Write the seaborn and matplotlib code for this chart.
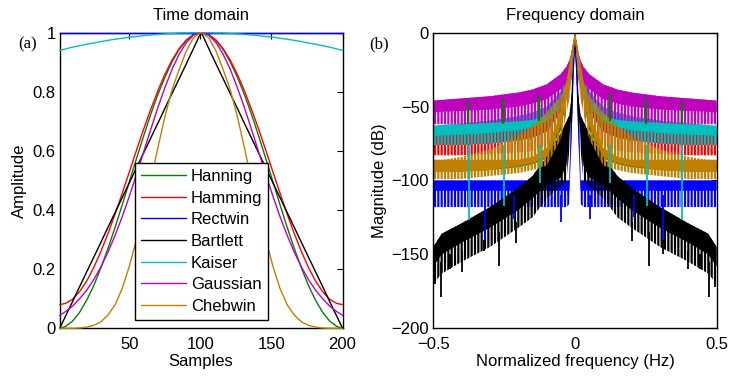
import numpy as np
import pandas as pd
import matplotlib
matplotlib.use("Agg")
import matplotlib.pyplot as plt
import seaborn as sns
from matplotlib.lines import Line2D

# ---------------- data ----------------
window_names = ["Hanning", "Hamming", "Rectwin", "Bartlett", "Kaiser", "Gaussian", "Chebwin"]
window_colors = ["#008000", "#FF0000", "#0000FF", "#000000", "#00BFBF", "#BF00BF", "#BF8000"]

# time domain (samples 1..200)
samples = [1, 5, 10, 15, 20, 25, 30, 35, 40, 45, 50, 55, 60, 65, 70, 75, 80, 85, 90, 95, 100,
           101, 106, 111, 116, 121, 126, 131, 136, 141, 146, 151, 156, 161, 166, 171, 176, 181, 186, 191, 196, 200]
hanning = [0.000, 0.006, 0.024, 0.054, 0.095, 0.145, 0.205, 0.271, 0.342, 0.418, 0.496, 0.574, 0.650, 0.723,
           0.790, 0.849, 0.901, 0.943, 0.973, 0.993, 1.000,
           1.000, 0.993, 0.973, 0.943, 0.901, 0.849, 0.790, 0.723, 0.650, 0.574, 0.496, 0.418, 0.342, 0.271,
           0.205, 0.145, 0.095, 0.054, 0.024, 0.006, 0.000]
hamming = [0.080, 0.084, 0.098, 0.124, 0.160, 0.206, 0.260, 0.321, 0.387, 0.457, 0.529, 0.602, 0.673, 0.740,
           0.803, 0.859, 0.907, 0.946, 0.975, 0.993, 1.000,
           1.000, 0.993, 0.975, 0.946, 0.907, 0.859, 0.803, 0.740, 0.673, 0.602, 0.529, 0.457, 0.387, 0.321,
           0.260, 0.206, 0.160, 0.124, 0.098, 0.084, 0.080]
rectwin = [1.0, 1.0, 1.0, 1.0, 1.0, 1.0, 1.0, 1.0, 1.0, 1.0, 1.0, 1.0, 1.0, 1.0, 1.0, 1.0, 1.0, 1.0, 1.0, 1.0, 1.0,
           1.0, 1.0, 1.0, 1.0, 1.0, 1.0, 1.0, 1.0, 1.0, 1.0, 1.0, 1.0, 1.0, 1.0, 1.0, 1.0, 1.0, 1.0, 1.0, 1.0, 1.0]
bartlett = [0.000, 0.040, 0.090, 0.141, 0.191, 0.241, 0.291, 0.342, 0.392, 0.442, 0.492, 0.543, 0.593, 0.643,
            0.693, 0.744, 0.794, 0.844, 0.894, 0.945, 0.997,
            0.997, 0.945, 0.894, 0.844, 0.794, 0.744, 0.693, 0.643, 0.593, 0.543, 0.492, 0.442, 0.392, 0.342,
            0.291, 0.241, 0.191, 0.141, 0.090, 0.040, 0.000]
kaiser = [0.940, 0.945, 0.951, 0.956, 0.961, 0.965, 0.970, 0.974, 0.978, 0.981, 0.985, 0.987, 0.990, 0.992,
          0.994, 0.996, 0.997, 0.999, 0.999, 1.000, 1.000,
          1.000, 1.000, 0.999, 0.999, 0.997, 0.996, 0.994, 0.992, 0.990, 0.987, 0.985, 0.981, 0.978, 0.974,
          0.970, 0.965, 0.961, 0.956, 0.951, 0.945, 0.940]
gaussian = [0.044, 0.056, 0.075, 0.100, 0.129, 0.165, 0.208, 0.258, 0.315, 0.378, 0.447, 0.520, 0.596, 0.672,
            0.746, 0.814, 0.876, 0.927, 0.966, 0.991, 1.000,
            1.000, 0.991, 0.966, 0.927, 0.876, 0.814, 0.746, 0.672, 0.596, 0.520, 0.447, 0.378, 0.315, 0.258,
            0.208, 0.165, 0.129, 0.100, 0.075, 0.056, 0.044]
chebwin = [0.000, 0.000, 0.000, 0.001, 0.004, 0.010, 0.022, 0.045, 0.080, 0.135, 0.210, 0.300, 0.395, 0.497,
           0.610, 0.716, 0.807, 0.875, 0.937, 0.982, 1.000,
           1.000, 0.982, 0.937, 0.875, 0.807, 0.716, 0.610, 0.497, 0.395, 0.300, 0.210, 0.135, 0.080, 0.045,
           0.022, 0.010, 0.004, 0.001, 0.000, 0.000, 0.000]
time_values = [hanning, hamming, rectwin, bartlett, kaiser, gaussian, chebwin]

# frequency domain: envelopes of the (symmetric) spectra, read for f >= 0, in dB
freq_half = [0.0, 0.01, 0.02, 0.03, 0.05, 0.1, 0.15, 0.2, 0.3, 0.4, 0.47, 0.5]
# top of band, bottom of solid core, bottom of teeth
han_top = [0, -12, -25, -36, -62, -82, -87, -89, -88, -87, -87, -87]
han_core = [-3, -20, -35, -45, -66, -85, -89, -91, -93, -94, -94, -94]
han_bot = [-3, -20, -35, -45, -66, -85, -89, -91, -93, -94, -94, -94]
ham_top = [0, -12, -25, -33, -44, -57, -61, -63, -65, -66, -66, -66]
ham_core = [-3, -20, -35, -42, -54, -67, -71, -73, -75, -76, -76, -76]
ham_bot = [-3, -28, -45, -52, -64, -76, -80, -81, -82, -83, -83, -83]
rec_top = [0, -30, -100, -100, -100, -100, -100, -100, -100, -100, -100, -100]
rec_core = [-5, -60, -107, -107, -107, -107, -107, -107, -107, -107, -107, -107]
rec_bot = [-5, -60, -116, -118, -118, -118, -118, -118, -118, -118, -118, -118]
bar_top = [0, -40, -56, -60, -68, -84, -97, -105, -118, -129, -136, -145]
bar_core = [-3, -50, -70, -90, -98, -103, -112, -120, -132, -142, -150, -158]
bar_bot = [-3, -55, -80, -100, -104, -112, -125, -132, -145, -155, -163, -170]
kai_top = [0, -12, -22, -30, -40, -50, -54, -56.5, -59.5, -61.5, -62.5, -63]
kai_core = [-3, -20, -32, -40, -50, -60, -64, -66, -68, -69, -69.5, -70]
kai_bot = [-3, -25, -40, -48, -58, -68, -72, -74, -75, -76, -76, -76]
gau_top = [0, -12, -19, -23, -28, -35, -38.5, -40.5, -43, -44.5, -45.5, -46]
gau_core = [-3, -20, -28, -33, -38, -45, -48, -50, -52, -53, -53.5, -54]
gau_bot = [-3, -25, -35, -42, -50, -57, -59, -60, -61, -62, -62, -62]
che_top = [0, -10, -22, -33, -43, -54, -63, -70, -79, -84, -86, -86]
che_core_top = [0, -10, -22, -33, -55, -78, -84, -86, -86, -86, -86, -86]
che_core = [-3, -20, -35, -45, -62, -84, -88, -90, -93, -94, -94, -94]
che_bot = [-3, -25, -45, -55, -72, -90, -93, -95, -97, -99, -99, -99]

spectra_top = [han_top, ham_top, rec_top, bar_top, kai_top, gau_top, che_top]
spectra_core_top = [han_top, ham_top, rec_top, bar_top, kai_top, gau_top, che_core_top]
spectra_core = [han_core, ham_core, rec_core, bar_core, kai_core, gau_core, che_core]
spectra_bot = [han_bot, ham_bot, rec_bot, bar_bot, kai_bot, gau_bot, che_bot]
hatches = ["|||||", "|||||", "|||||", "|||||", "|||||", "|||||", "|||||"]

# isolated spikes
green_spike_f = [-0.377, -0.253, -0.127, 0.125, 0.252, 0.376]
green_spike_top = [-46.5, -44.5, -42, -41, -44.5, -46.5]
green_spike_bot = [-62, -62, -60, -60, -62, -62]
cyan_spike_f = [-0.374, -0.25, -0.124, 0.124, 0.253, 0.377]
cyan_spike_top = [-76, -76, -76, -76, -76, -76]
cyan_spike_bot = [-127, -117, -102, -102, -117, -127]
blue_spike_f = [-0.318, -0.214, -0.05, 0.053, 0.21, 0.31]
blue_spike_top = [-110, -110, -110, -110, -110, -110]
blue_spike_bot = [-141, -126, -128, -126, -125, -142]
black_spike_f = [-0.494, -0.473, -0.44, -0.40, -0.32, -0.267, -0.208, 0.2, 0.262, 0.31, 0.40, 0.44, 0.473, 0.494]
black_spike_top = [-160, -155, -150, -148, -140, -135, -128, -128, -135, -140, -148, -150, -155, -160]
black_spike_bot = [-170, -179, -160, -162, -148, -158, -142, -141, -158, -150, -160, -160, -179, -172]

# ticks
time_xticks = [50, 100, 150, 200]
time_yticks = [0, 0.2, 0.4, 0.6, 0.8, 1]
time_yticklabels = ["0", "0.2", "0.4", "0.6", "0.8", "1"]
freq_xticks = [-0.5, 0, 0.5]
freq_xticklabels = ["\u22120.5", "0", "0.5"]
freq_yticks = [-200, -150, -100, -50, 0]
freq_yticklabels = ["\u2212200", "\u2212150", "\u2212100", "\u221250", "0"]


def mirror_f(half):
    h = np.asarray(half, dtype=float)
    return np.concatenate([-h[::-1], h[1:]])


def mirror_v(half):
    h = np.asarray(half, dtype=float)
    return np.concatenate([h[::-1], h[1:]])


# ---------------- style ----------------
sns.set_style("white")
plt.rcParams["font.family"] = ["Liberation Sans", "DejaVu Sans"]
plt.rcParams["text.color"] = "black"
plt.rcParams["axes.labelcolor"] = "black"
plt.rcParams["xtick.color"] = "black"
plt.rcParams["ytick.color"] = "black"
plt.rcParams["hatch.linewidth"] = 1.6
plt.rcParams["axes.unicode_minus"] = True

fig = plt.figure(figsize=(7.31, 3.76), dpi=100)
axL = fig.add_axes([0.0817, 0.1269, 0.3869, 0.7862])
axR = fig.add_axes([0.5927, 0.1269, 0.3877, 0.7862])

# ---------------- time domain ----------------
df_time = pd.DataFrame({
    "Samples": np.tile(samples, len(window_names)),
    "Amplitude": np.concatenate(time_values),
    "Window": np.repeat(window_names, len(samples)),
})
for name, color in zip(window_names, window_colors):
    sub = df_time[df_time["Window"] == name]
    sns.lineplot(data=sub, x="Samples", y="Amplitude", color=color, linewidth=1.0,
                 ax=axL, legend=False, sort=False, estimator=None)
for ln in axL.lines:
    ln.set_clip_on(False)
    ln.set_zorder(3)

axL.set_xlim(1, 200)
axL.set_ylim(0, 1)
axL.set_xticks(time_xticks)
axL.set_yticks(time_yticks)
axL.set_yticklabels(time_yticklabels)
axL.set_xlabel("Samples", fontsize=12, labelpad=2)
axL.set_ylabel("Amplitude", fontsize=12, labelpad=4)
axL.set_title("Time domain", fontsize=12, pad=9)

handles = [Line2D([], [], color=c, linewidth=1.0) for c in window_colors]
leg = axL.legend(handles, window_names, loc="upper left", bbox_to_anchor=(0.266, 0.559),
                 borderaxespad=0, fontsize=12, handlelength=2.7, handletextpad=0.3,
                 labelspacing=0.40, borderpad=0.35, frameon=True, fancybox=False,
                 framealpha=1, edgecolor="black")
leg.get_frame().set_linewidth(1.0)
leg.set_zorder(5)

# ---------------- frequency domain ----------------
f_full = mirror_f(freq_half)
for i, color in enumerate(window_colors):
    z = 1 + i * 0.05
    top = mirror_v(spectra_top[i])
    ctop = mirror_v(spectra_core_top[i])
    core = mirror_v(spectra_core[i])
    bot = mirror_v(spectra_bot[i])
    axR.fill_between(f_full, bot, top, facecolor="none", edgecolor=color, hatch=hatches[i],
                     linewidth=0, zorder=z)
    axR.fill_between(f_full, core, ctop, facecolor=color, edgecolor="none", linewidth=0, zorder=z + 0.01)

axR.vlines(blue_spike_f, blue_spike_bot, blue_spike_top, colors=window_colors[2], linewidth=1.3, zorder=2.0)
axR.vlines(black_spike_f, black_spike_bot, black_spike_top, colors=window_colors[3], linewidth=1.3, zorder=2.0)
axR.vlines(cyan_spike_f, cyan_spike_bot, cyan_spike_top, colors=window_colors[4], linewidth=1.3, zorder=2.1)
axR.vlines(green_spike_f, green_spike_bot, green_spike_top, colors=window_colors[0], linewidth=1.5, zorder=2.1)

axR.set_xlim(-0.5, 0.5)
axR.set_ylim(-200, 0)
axR.set_xticks(freq_xticks)
axR.set_xticklabels(freq_xticklabels)
axR.set_yticks(freq_yticks)
axR.set_yticklabels(freq_yticklabels)
axR.set_xlabel("Normalized frequency (Hz)", fontsize=12, labelpad=2)
axR.set_ylabel("Magnitude (dB)", fontsize=12, labelpad=3)
axR.set_title("Frequency domain", fontsize=12, pad=9)

for ax in (axL, axR):
    ax.tick_params(direction="in", top=True, right=True, length=4, width=0.8,
                   labelsize=12, colors="black")
    ax.tick_params(axis="x", pad=6)
    ax.tick_params(axis="y", pad=3)
    for s in ax.spines.values():
        s.set_visible(True)
        s.set_color("black")
        s.set_linewidth(1.0)
        s.set_zorder(2.5)

fig.text(0.0376, 0.883, "(a)", family=["Liberation Serif", "DejaVu Serif"], fontsize=12,
         ha="center", va="center")
fig.text(0.5185, 0.883, "(b)", family=["Liberation Serif", "DejaVu Serif"], fontsize=12,
         ha="center", va="center")

fig.savefig("out.png", dpi=100)
